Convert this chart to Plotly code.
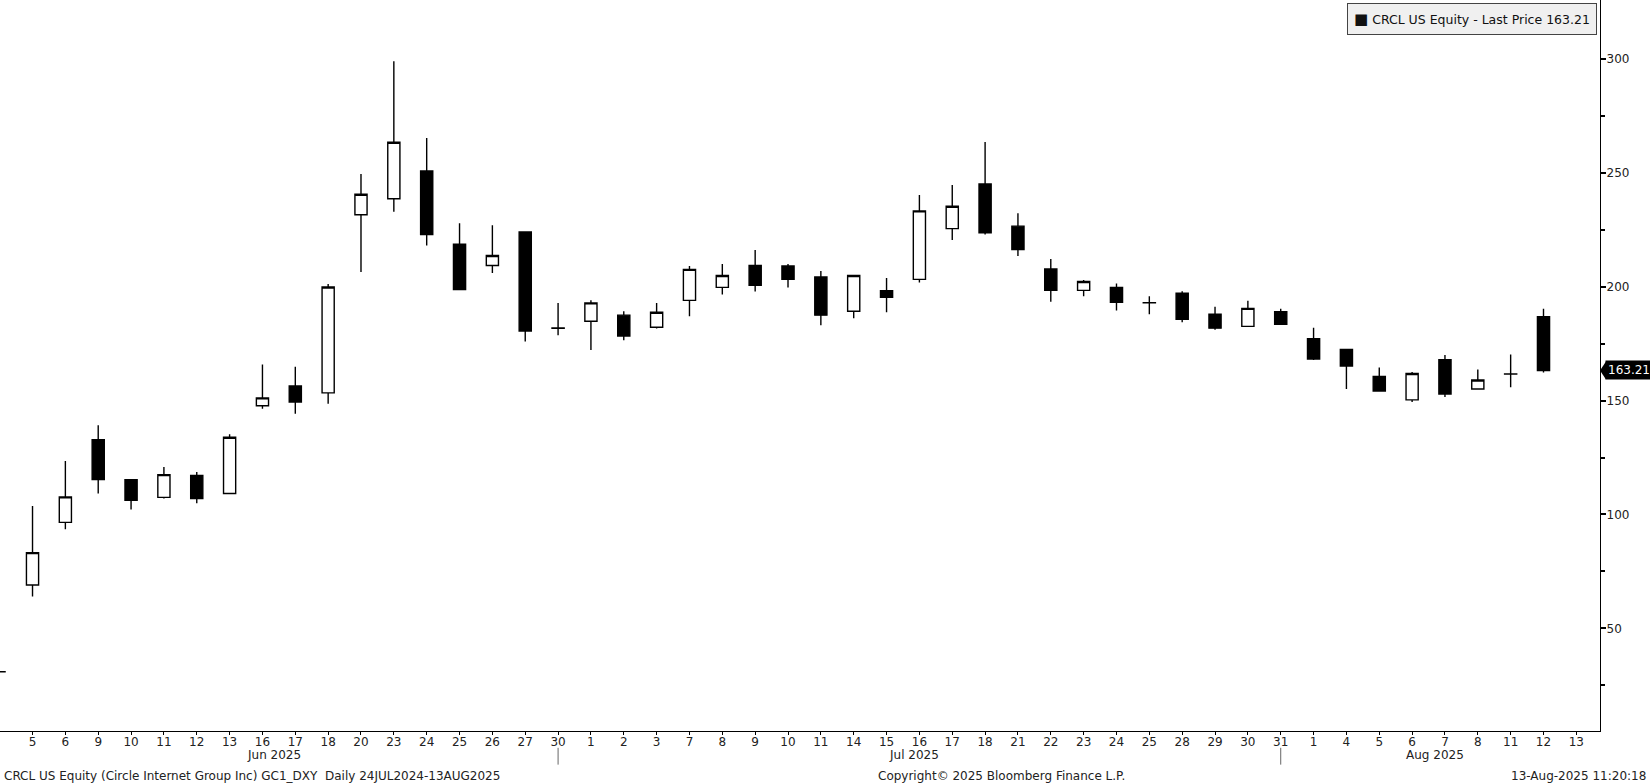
import plotly.graph_objects as go

# ---- data ----
dates = [
    "2025-06-04",
    "2025-06-05", "2025-06-06", "2025-06-09", "2025-06-10", "2025-06-11", "2025-06-12",
    "2025-06-13", "2025-06-16", "2025-06-17", "2025-06-18", "2025-06-20", "2025-06-23",
    "2025-06-24", "2025-06-25", "2025-06-26", "2025-06-27", "2025-06-30",
    "2025-07-01", "2025-07-02", "2025-07-03", "2025-07-07", "2025-07-08", "2025-07-09",
    "2025-07-10", "2025-07-11", "2025-07-14", "2025-07-15", "2025-07-16", "2025-07-17",
    "2025-07-18", "2025-07-21", "2025-07-22", "2025-07-23", "2025-07-24", "2025-07-25",
    "2025-07-28", "2025-07-29", "2025-07-30", "2025-07-31",
    "2025-08-01", "2025-08-04", "2025-08-05", "2025-08-06", "2025-08-07", "2025-08-08",
    "2025-08-11", "2025-08-12", "2025-08-13",
]
opens = [30.9,
         69.0, 96.5, 132.8, 115.3, 107.5, 117.1, 109.2, 147.7, 156.4, 153.4, 231.6, 238.6,
         250.8, 218.7, 209.3, 224.0, 181.9,
         184.8, 187.5, 182.2, 194.0, 199.7, 209.3, 209.1, 204.3, 189.2, 198.2, 203.2, 225.5,
         245.1, 226.6, 207.8, 198.4, 199.7, 193.0, 197.1, 187.9, 182.6, 189.0,
         177.2, 172.4, 160.6, 150.3, 168.0, 155.1, 161.6, 186.8, None]
highs = [30.9,
         103.75, 123.5, 139.2, 115.5, 120.8, 118.6, 135.2, 165.8, 164.9, 201.2, 249.5, 298.99,
         265.3, 227.9, 227.0, 224.2, 192.9,
         194.0, 189.2, 192.9, 209.1, 210.0, 216.1, 210.0, 206.9, 205.0, 203.8, 240.3, 244.7,
         263.5, 232.3, 212.2, 203.0, 201.4, 195.8, 198.0, 191.2, 193.8, 190.3,
         182.0, 172.6, 164.5, 162.5, 170.0, 163.6, 170.2, 190.3, None]
lows = [30.9,
        64.0, 93.5, 109.2, 102.2, 107.0, 104.9, 109.0, 146.4, 144.2, 148.6, 206.5, 232.9,
        218.1, 198.5, 206.0, 175.9, 178.7,
        172.2, 176.5, 181.6, 187.0, 196.6, 197.9, 199.7, 183.1, 186.1, 188.8, 201.9, 220.5,
        222.9, 213.5, 193.4, 195.8, 189.6, 187.9, 184.4, 181.1, 182.6, 183.5,
        167.8, 155.1, 154.2, 149.4, 151.6, 154.7, 155.8, 162.3, None]
closes = [30.9,
          83.23, 107.7, 115.3, 106.2, 117.5, 107.0, 133.9, 151.2, 149.4, 199.9, 240.6, 263.45,
          222.9, 198.8, 213.7, 180.5, 181.7,
          192.9, 178.3, 188.8, 207.6, 204.9, 200.6, 203.2, 187.5, 204.9, 195.3, 233.3, 235.3,
          223.7, 216.3, 198.4, 202.3, 193.1, 192.9, 185.7, 181.8, 190.5, 183.5,
          168.2, 165.2, 154.2, 161.9, 152.9, 159.0, 161.7, 163.21, None]

y_ticks = [50, 100, 150, 200, 250, 300]
y_minor = [25, 75, 125, 175, 225, 275]
ticker = "CRCL US Equity"
last_price = 163.21

# ---- build ----
idx = list(range(-1, len(dates) - 1))   # first point sits left of the axis start
labels = ["" if i < 0 else str(int(d[-2:])) for i, d in zip(idx, dates)]
FONT = "DejaVu Sans"
X_RANGE = [-0.99, 47.72]

fig = go.Figure()
fig.add_trace(go.Candlestick(
    x=idx, open=opens, high=highs, low=lows, close=closes,
    increasing=dict(fillcolor="white", line=dict(color="black", width=1.4)),
    decreasing=dict(fillcolor="black", line=dict(color="black", width=1.4)),
    whiskerwidth=0, showlegend=False, hoverinfo="x+y",
))

fig.update_layout(
    width=1650, height=783,
    margin=dict(l=0, r=50, t=0, b=52),
    paper_bgcolor="white", plot_bgcolor="white",
    boxgap=0.63, boxgroupgap=0,
    font=dict(family=FONT, size=12, color="#222"),
    xaxis=dict(
        range=X_RANGE, rangeslider=dict(visible=False),
        tickmode="array", tickvals=idx, ticktext=labels,
        ticks="outside", ticklen=3, tickcolor="black",
        ticklabelstandoff=-4,
        showline=True, linecolor="black", linewidth=1.3,
        showgrid=False, zeroline=False,
        tickfont=dict(family=FONT, size=12, color="#222"),
    ),
    yaxis=dict(
        side="right", range=[4.9, 325.9],
        tickmode="array", tickvals=y_ticks,
        ticks="outside", ticklen=5, tickwidth=2, tickcolor="black",
        ticklabelstandoff=-2,
        minor=dict(tickmode="array", tickvals=y_minor,
                   ticks="outside", ticklen=4, tickcolor="black"),
        showline=True, linecolor="black", linewidth=1.3,
        showgrid=False, zeroline=False,
        tickfont=dict(family=FONT, size=12, color="#222"),
    ),
)

# month labels and separators
months = {}
for i, d in zip(idx, dates):
    if i < 0:
        continue
    months.setdefault(d[:7], []).append(i)
names = {"2025-06": "Jun 2025", "2025-07": "Jul 2025", "2025-08": "Aug 2025"}
keys = list(months)
for n, k in enumerate(keys):
    end = months[k][-1] if n < len(keys) - 1 else X_RANGE[1]
    mid = (months[k][0] + end) / 2 - 0.65
    fig.add_annotation(x=mid, xref="x", y=-0.033, yref="paper", yanchor="middle",
                       text=names[k], showarrow=False,
                       font=dict(family=FONT, size=12, color="#222"))
for k in keys[:-1]:
    xs = months[k][-1]
    fig.add_shape(type="line", xref="x", yref="paper", x0=xs, x1=xs,
                  y0=-0.023, y1=-0.046, line=dict(color="#666", width=1))

# footer texts
fig.add_annotation(x=0.001, xref="paper", y=-0.061, yref="paper", xanchor="left", yanchor="middle",
                   text="CRCL US Equity (Circle Internet Group Inc) GC1_DXY  Daily 24JUL2024-13AUG2025",
                   showarrow=False, font=dict(family=FONT, size=12, color="#222"))
fig.add_annotation(x=1001 / 1600, xref="paper", y=-0.061, yref="paper", xanchor="center", yanchor="middle",
                   text="Copyright© 2025 Bloomberg Finance L.P.",
                   showarrow=False, font=dict(family=FONT, size=12, color="#222"))
fig.add_annotation(x=1648 / 1600, xref="paper", y=-0.061, yref="paper", xanchor="right", yanchor="middle",
                   text="13-Aug-2025 11:20:18",
                   showarrow=False, font=dict(family=FONT, size=12, color="#222"))

# legend box
fig.add_annotation(x=1597 / 1600, xref="paper", y=1 - 3 / 731, yref="paper", xanchor="right", yanchor="top",
                   text="<span style='font-size:15px'>■</span> " + ticker + " - Last Price " + f"{last_price:.2f}",
                   showarrow=False, bgcolor="#f0f0f0", bordercolor="#444", borderwidth=1, borderpad=6,
                   font=dict(family=FONT, size=12.5, color="#111"))

# last price tag on the right axis
fig.add_annotation(x=1, xref="paper", y=last_price, yref="y", xanchor="left", yanchor="middle",
                   xshift=5, text=f"{last_price:.2f}", showarrow=False,
                   bgcolor="black", borderpad=2, font=dict(family=FONT, size=12, color="white"))
half = 9 / 2.2775
fig.add_shape(type="path", xref="paper", yref="y",
              path=f"M 1,{last_price} L {1 + 6 / 1600},{last_price + half} L {1 + 6 / 1600},{last_price - half} Z",
              fillcolor="black", line=dict(width=0))

fig.write_html("out.html", config={"displayModeBar": False},
               post_script="document.body.style.margin='0';document.body.style.overflow='hidden';")
